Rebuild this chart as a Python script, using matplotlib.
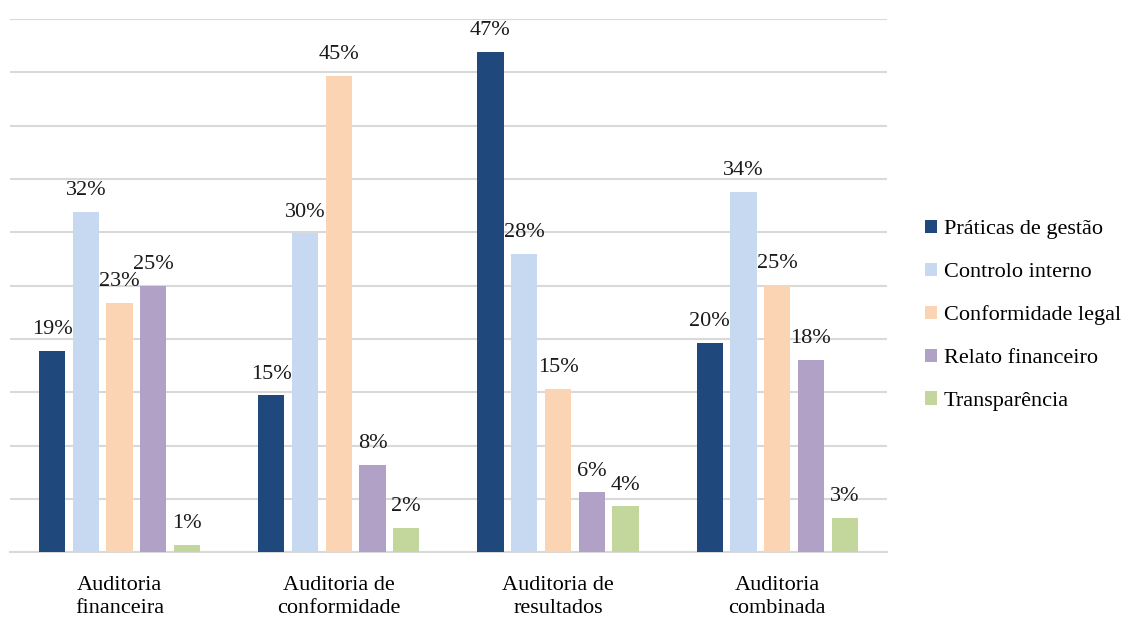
import matplotlib.pyplot as plt
import numpy as np

plt.rcParams["font.family"] = ["Liberation Serif", "DejaVu Serif"]

categories = ["Auditoria\nfinanceira", "Auditoria de\nconformidade",
              "Auditoria de\nresultados", "Auditoria\ncombinada"]
series = ["Práticas de gestão", "Controlo interno", "Conformidade legal",
          "Relato financeiro", "Transparência"]
praticas = [18.9, 14.7, 46.9, 19.6]
controlo = [31.9, 29.9, 28.0, 33.8]
conformidade = [23.4, 44.7, 15.3, 25.1]
relato = [25.0, 8.2, 5.6, 18.0]
transparencia = [0.7, 2.3, 4.3, 3.2]
colors = ["#1F497D", "#C6D9F1", "#FBD4B4", "#B2A1C7", "#C3D69B"]

values = [praticas, controlo, conformidade, relato, transparencia]

fig = plt.figure(figsize=(11.3, 6.19), dpi=100)
ax = fig.add_axes([0.0088, 0.108, 0.776, 0.861])

x = np.arange(len(categories))
width = 0.12
pitch = 0.154
for i, (name, vals, col) in enumerate(zip(series, values, colors)):
    pos = x + (i - 2) * pitch
    bars = ax.bar(pos, vals, width=width, color=col, label=name, zorder=3)
    for b, v in zip(bars, vals):
        ax.annotate(f"{v:.0f}%", (b.get_x() + b.get_width() / 2, v),
                    xytext=(0, 8.5), textcoords="offset points",
                    ha="center", va="bottom", fontsize=16, color="#1a1a1a")

ax.set_xlim(-0.5, 3.5)
ax.set_ylim(0, 50)
ax.set_yticks(np.arange(0, 51, 5))
ax.set_yticklabels([])
ax.yaxis.grid(True, color="#D9D9D9", linewidth=1.5, zorder=0)
ax.tick_params(axis="y", length=0)
ax.set_xticks(x)
ax.set_xticklabels(categories, fontsize=16, linespacing=1.26)
ax.tick_params(axis="x", length=0, pad=17.5)
for s in ["top", "right", "left"]:
    ax.spines[s].set_visible(False)
ax.spines["bottom"].set_color("#D9D9D9")
ax.spines["bottom"].set_linewidth(1.5)

fig.legend(loc="center left", bbox_to_anchor=(0.8186, 0.4905), frameon=False,
           fontsize=16, handlelength=0.54, handleheight=0.54,
           handletextpad=0.3, labelspacing=1.05, borderaxespad=0, borderpad=0)

fig.savefig("out.png", dpi=100)
